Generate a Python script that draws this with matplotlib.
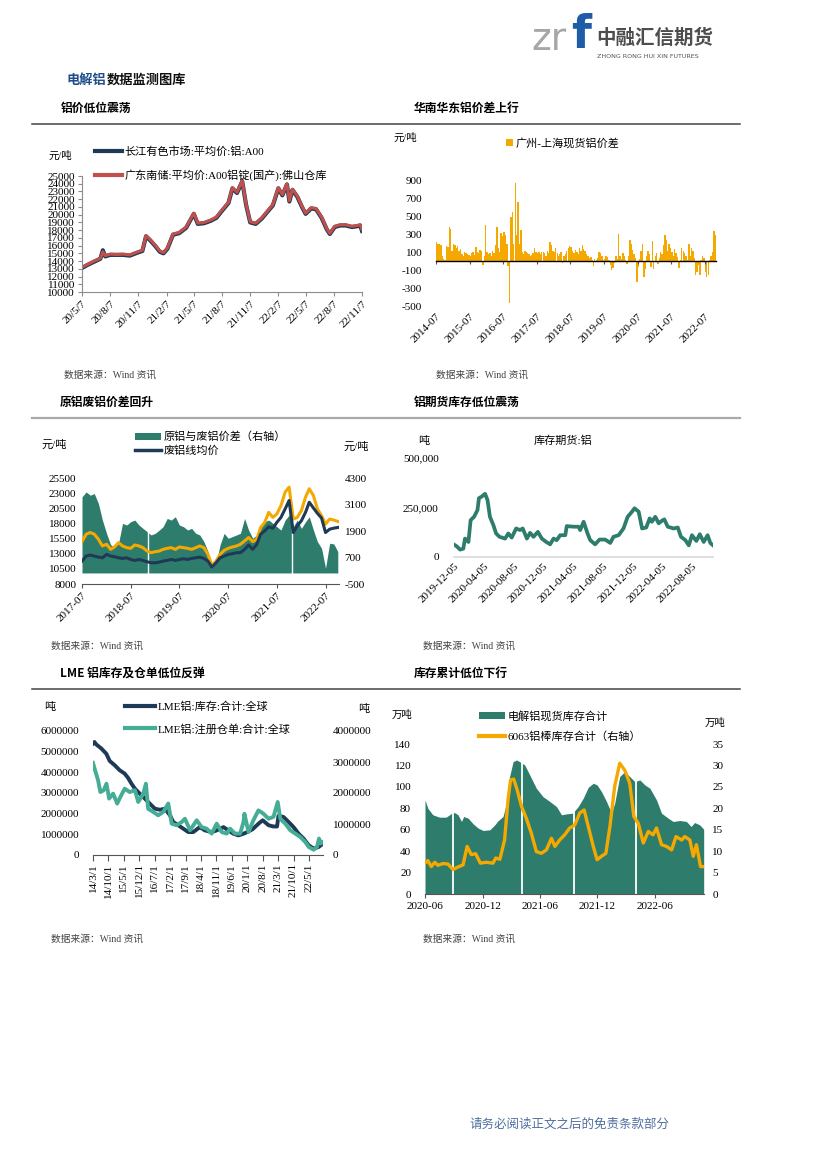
import numpy as np
import pandas as pd
import matplotlib
matplotlib.use('Agg')
import matplotlib.pyplot as plt
import matplotlib.dates as mdates
from matplotlib.lines import Line2D
from matplotlib.patches import Patch
from matplotlib.ticker import FuncFormatter

SERIF = ['Liberation Serif', 'Noto Sans CJK SC', 'DejaVu Sans']
SANS = ['Noto Sans CJK SC', 'DejaVu Sans']
plt.rcParams['font.family'] = SERIF
plt.rcParams['axes.unicode_minus'] = False

NAVY = '#1F3A56'
RED = '#C0504D'
ORANGE = '#F5A800'
GREEN = '#2E7D6C'
TEAL = '#45AD95'

# ---------------- data ----------------
# Panel 1: 铝价
p1_dates = ['2020-05-07','2020-05-25','2020-06-15','2020-07-06','2020-07-14','2020-07-22','2020-08-07','2020-08-28',
            '2020-09-18','2020-10-10','2020-11-05','2020-11-20','2020-12-02','2020-12-15','2020-12-31','2021-01-16',
            '2021-01-28','2021-02-10','2021-02-28','2021-03-20','2021-04-12','2021-05-07','2021-05-20','2021-06-10',
            '2021-07-01','2021-07-20','2021-08-07','2021-08-28','2021-09-10','2021-09-25','2021-10-12','2021-10-25',
            '2021-11-07','2021-11-25','2021-12-15','2022-01-05','2022-01-20','2022-02-07','2022-02-20','2022-03-07',
            '2022-03-15','2022-03-25','2022-04-10','2022-04-25','2022-05-07','2022-05-25','2022-06-10','2022-06-28',
            '2022-07-15','2022-07-25','2022-08-10','2022-08-28','2022-09-15','2022-10-05','2022-10-22','2022-11-01',
            '2022-11-07']
p1_changjiang = [13100,13500,13900,14300,15400,14600,14800,14800,14800,14700,15100,15300,17200,16700,16000,15200,
                 15000,15600,17400,17600,18300,20100,18800,18900,19200,19600,20500,21500,23400,22800,24300,21200,
                 19000,18800,19500,20500,21200,23400,22500,23900,21700,23200,22300,21000,20100,20800,20700,19600,
                 18100,17500,18400,18600,18600,18400,18500,18600,17900]
p1_guangdong = [13200,13550,14000,14350,15200,14700,14900,14850,14900,14800,15200,15400,17300,16800,16100,15300,
                15100,15700,17500,17700,18400,20200,18900,19000,19300,19700,20600,21600,23500,22900,24400,21300,
                19100,18900,19600,20600,21300,23500,22600,24000,21800,23300,22400,21100,20200,20900,20800,19700,
                18200,17600,18500,18700,18700,18500,18600,18700,18100]
p1_legend = ['长江有色市场:平均价:铝:A00', '广东南储:平均价:A00铝锭(国产):佛山仓库']

# Panel 2: 广州-上海现货铝价差 (semi-monthly from 2014-07)
p2_start = '2014-07-01'
p2_spread = [220,190, 200,180, 60,30, 20,170, 160,380, 360,120,
             190,180, 150,170, 120,140, 80,60, 100,90, 80,70, 60,90, 100,70, 160,110, 90,130, 120,-40, 60,410,
             100,80, 90,60, 120,90, 180,390, 150,100, 320,280, 330,300, 200,-50, -470,500, 550,200, 880,300, 670,200,
             350,100, 80,120, 100,90, 80,60, 70,90, 150,100, 90,110, 80,100, 110,90, 60,120, 90,220, 180,120,
             100,150, 90,60, 80,100, -20,60, 80,120, 150,170, 160,120, 90,130, 110,80, 150,120, 180,140, 120,80,
             60,40, 50,20, -50,30, 20,40, 100,90, 60,20, 30,60, 50,20, -40,-100, -70,-20, 60,30, 310,60,
             30,90, 60,20, -30,60, 240,200, 130,80, 40,-230, -60,30, 120,200, -170,-90, 60,120, 80,-60, 230,-80,
             60,90, -30,40, 100,80, 180,300, 240,120, 200,150, 100,60, 140,90, 50,-70, 20,150, 120,90, 60,20,
             200,60, 150,120, 40,-150, -120,-40, -150,20, 60,40, -120,-180, -150,20, 60,100, 340,300]
p2_legend = '广州-上海现货铝价差'

# Panel 3: 原铝废铝 (monthly from 2017-07)
p3_start = '2017-07-01'
p3_primary = [15000,16220,16500,16220,15390,14280,
              14560,13720,14110,14830,14280,14000,13890,14440,14280,14000,13440,13170,
              13330,13440,13720,13890,14000,13720,14110,14000,13890,13720,14000,14280,
              14000,12890,11110,11780,12890,13560,13890,14110,14280,14560,15110,15670,
              15000,15390,17330,18170,19830,19000,19560,20940,23170,24000,18720,19000,
              20110,22330,23720,22610,20390,19280,17890,18720,18560,18330]
p3_scrap = [11780,12610,12780,12610,12440,12330,
            12890,12610,12500,12330,12220,12330,12050,11890,12050,11890,11670,11500,
            11500,11610,11780,11890,12050,11890,12050,12170,12050,12220,12330,12440,
            12220,11780,10780,11500,12330,12610,12890,13000,13170,13170,13720,14440,
            13720,14560,16220,16780,17440,17220,18170,19000,20390,21780,16500,17610,
            18440,19830,21500,20560,19670,18890,16500,17050,17220,17330]
p3_diff = [3445,3670,3520,3595,3145,2395,
           1795,1270,1195,1345,2245,2170,2320,2395,2170,2020,1870,1720,
           1795,1945,2095,2470,2395,2545,2170,2095,1945,2020,1795,1720,
           1420,970,220,445,1270,1795,1570,1645,1720,1795,2470,1945,
           1570,1720,2095,2320,2395,2245,2095,1945,2395,2620,2095,2395,
           2020,2320,2545,1945,1420,1120,220,1345,1315,970]
p3_gap_dates = ['2018-11-10', '2021-10-20']
p3_legend = ['原铝与废铝价差（右轴）', '废铝线均价']

# Panel 4: 库存期货:铝
p4_dates = ['2019-12-05','2019-12-16','2019-12-30','2020-01-12','2020-01-19','2020-02-02','2020-02-11','2020-02-25',
            '2020-03-10','2020-03-16','2020-03-27','2020-04-10','2020-04-20','2020-04-30','2020-05-14','2020-05-25',
            '2020-06-08','2020-07-01','2020-07-14','2020-07-28','2020-08-15','2020-08-31','2020-09-11','2020-09-28',
            '2020-10-11','2020-10-25','2020-11-12','2020-11-28','2020-12-16','2021-01-01','2021-01-15','2021-01-28',
            '2021-02-11','2021-03-04','2021-03-10','2021-04-07','2021-04-27','2021-05-04','2021-05-18','2021-06-03',
            '2021-06-14','2021-07-04','2021-07-22','2021-08-14','2021-09-04','2021-09-17','2021-10-08','2021-10-28',
            '2021-11-14','2021-12-02','2021-12-12','2021-12-29','2022-01-12','2022-01-29','2022-02-12','2022-02-21',
            '2022-03-07','2022-03-21','2022-04-03','2022-04-13','2022-04-27','2022-05-21','2022-06-07','2022-06-20',
            '2022-07-08','2022-07-22','2022-08-04','2022-08-22','2022-09-05','2022-09-21','2022-10-07','2022-10-18',
            '2022-10-29']
p4_stock = [62700,54000,37300,42000,93000,76000,186000,203000,237000,297000,305000,319000,288000,203000,161000,
            119000,102000,93000,119000,98000,144000,136000,144000,93000,122000,102000,127000,93000,76000,64000,
            93000,85000,110000,110000,156000,153000,153000,136000,178000,119000,85000,64000,88000,88000,71000,
            102000,110000,144000,203000,229000,246000,229000,144000,149000,195000,178000,203000,170000,183000,
            190000,153000,144000,149000,102000,85000,59000,110000,81000,115000,76000,110000,71000,59000]
p4_legend = '库存期货:铝'

# Panel 5: LME
p5_stock_dates = ['2014-03-01','2014-03-20','2014-04-15','2014-06-25','2014-09-01','2014-10-18','2014-12-27',
                  '2015-03-05','2015-05-12','2015-06-27','2015-08-15','2015-10-01','2015-12-07','2016-02-15',
                  '2016-04-25','2016-07-04','2016-09-10','2016-11-18','2017-01-28','2017-03-13','2017-05-22',
                  '2017-08-01','2017-10-07','2017-12-16','2018-02-24','2018-03-18','2018-05-25','2018-08-27',
                  '2018-11-04','2019-02-06','2019-04-15','2019-06-22','2019-09-01','2019-11-09','2019-12-25',
                  '2020-03-15','2020-06-15','2020-08-01','2020-10-21','2020-12-28','2021-02-15','2021-03-07',
                  '2021-05-15','2021-07-24','2021-10-01','2021-12-10','2022-02-18','2022-04-28','2022-07-06',
                  '2022-09-13','2022-11-12']
p5_stock = [5390000,5470000,5350000,5150000,4900000,4550000,4340000,4100000,3940000,3740000,3450000,3210000,
            2970000,2730000,2480000,2240000,2190000,2240000,1920000,1600000,1440000,1270000,1110000,1110000,
            1300000,1350000,1190000,1110000,1190000,1350000,1190000,1030000,950000,1030000,1100000,1250000,
            1550000,1680000,1440000,1380000,1380000,1900000,1840000,1600000,1350000,1030000,790000,470000,
            310000,390000,550000]
p5_warrant_dates = ['2014-03-01','2014-03-24','2014-05-10','2014-06-11','2014-07-27','2014-09-03','2014-10-10',
                    '2014-12-04','2015-01-29','2015-03-14','2015-05-13','2015-07-22','2015-10-01','2015-11-16',
                    '2016-01-25','2016-03-01','2016-04-01','2016-06-10','2016-08-18','2016-10-27','2017-01-04',
                    '2017-02-20','2017-04-28','2017-07-07','2017-08-22','2017-11-01','2018-02-01','2018-04-10',
                    '2018-06-18','2018-08-27','2018-11-04','2019-01-13','2019-03-22','2019-05-07','2019-07-16',
                    '2019-09-24','2019-11-09','2019-11-22','2020-01-18','2020-03-25','2020-06-03','2020-08-12',
                    '2020-10-21','2020-12-28','2021-02-24','2021-04-01','2021-06-09','2021-08-16','2021-10-25',
                    '2022-01-03','2022-03-12','2022-04-28','2022-07-06','2022-08-21','2022-09-18','2022-10-15',
                    '2022-11-12']
p5_warrant = [2970000,2780000,2410000,2030000,2090000,2300000,1820000,1980000,1660000,1870000,2140000,2030000,
              2090000,1710000,1980000,2300000,1490000,1390000,1280000,1390000,1660000,1010000,960000,1060000,
              1170000,800000,1120000,900000,850000,690000,1010000,740000,690000,850000,690000,690000,1060000,
              1330000,740000,1120000,1440000,1330000,1170000,1230000,1710000,1170000,1010000,800000,690000,
              580000,420000,260000,170000,260000,530000,370000,420000]
p5_legend = ['LME铝:库存:合计:全球', 'LME铝:注册仓单:合计:全球']

# Panel 6: 库存累计
p6_spot_dates = ['2020-06-01','2020-06-10','2020-06-26','2020-07-17','2020-08-07','2020-08-18','2020-08-25',
                 '2020-09-03','2020-09-14','2020-09-25','2020-10-02','2020-10-16','2020-11-01','2020-11-17',
                 '2020-12-03','2020-12-24','2021-01-09','2021-01-19','2021-02-04','2021-02-15','2021-02-25',
                 '2021-03-08','2021-03-19','2021-03-29','2021-04-14','2021-04-30','2021-05-21','2021-06-11',
                 '2021-07-03','2021-07-24','2021-08-09','2021-08-25','2021-09-13','2021-10-01','2021-10-17',
                 '2021-11-02','2021-11-18','2021-11-30','2021-12-14','2021-12-30','2022-01-15','2022-01-25',
                 '2022-02-10','2022-02-26','2022-03-14','2022-03-30','2022-04-15','2022-05-01','2022-05-17',
                 '2022-06-07','2022-06-23','2022-07-14','2022-07-30','2022-08-20','2022-09-10','2022-09-25',
                 '2022-10-06','2022-10-22','2022-11-04']
p6_spot = [87.8,80,73.9,71.7,71.7,73.9,75.4,76,73.9,67.7,72.3,70.8,65.5,61.5,59.3,59.9,
           64.6,68.3,72.3,84.7,109.6,123.5,125.1,123.5,120.4,111.1,98.7,90.9,86.3,81.6,73.9,74.8,75.4,81.6,
           89.4,99.6,103.4,101.8,95.6,86.3,
           75.4,84.7,109.6,114.2,109.6,104.9,106.5,101.8,98.7,87.8,75.4,70.8,67.7,68.6,67.7,63,66.7,64.6,60.5]
p6_gap_dates = ['2020-08-30', '2021-04-05', '2021-09-18', '2022-04-03']
p6_bar_dates = ['2020-06-01','2020-06-10','2020-06-21','2020-07-02','2020-07-12','2020-07-28','2020-08-13',
                '2020-08-29','2020-09-14','2020-09-30','2020-10-13','2020-10-26','2020-11-09','2020-11-24',
                '2020-12-13','2021-01-03','2021-01-12','2021-01-25','2021-02-09','2021-02-20','2021-02-28',
                '2021-03-10','2021-03-21','2021-04-04','2021-04-19','2021-05-05','2021-05-21','2021-06-06',
                '2021-06-22','2021-07-08','2021-07-19','2021-08-03','2021-08-19','2021-09-04','2021-09-20',
                '2021-10-06','2021-10-20','2021-11-02','2021-11-18','2021-11-30','2021-12-14','2021-12-28',
                '2022-01-10','2022-01-25','2022-02-10','2022-02-26','2022-03-14','2022-03-27','2022-04-10',
                '2022-04-26','2022-05-12','2022-05-27','2022-06-07','2022-06-23','2022-07-09','2022-07-25',
                '2022-08-08','2022-08-26','2022-09-05','2022-09-21','2022-10-02','2022-10-12','2022-10-25',
                '2022-11-04']
p6_bar = [7.2,7.8,6.4,7.4,6.7,7.1,7.0,5.7,6.3,6.8,11.1,9.2,9.4,7.2,7.4,
          7.2,8.4,8.1,12.6,22,26.6,26.8,24.3,20.4,17.7,14.2,9.9,9.5,10.3,13,11.1,12.6,13.8,15.4,16.1,18.9,
          19.6,15.8,11.1,8,8.8,9.5,
          15.8,25.1,30.5,28.9,25.8,18.1,16.5,11.9,14.6,13.8,15.4,11.5,11.1,10.3,13.4,12.6,13.4,12.6,8.8,11.5,
          6.4,6.4]
p6_legend = ['电解铝现货库存合计', '6063铝棒库存合计（右轴）']

# ---------------- figure ----------------
W, H = 826, 1169
fig = plt.figure(figsize=(W / 100, H / 100), dpi=100)
fig.patch.set_facecolor('white')


def add_ax(l, t, r, b):
    return fig.add_axes([l / W, 1 - b / H, (r - l) / W, (b - t) / H])


def ftext(x, y, s, **kw):
    kw.setdefault('va', 'center')
    kw.setdefault('ha', 'left')
    fig.text(x / W, 1 - y / H, s, **kw)


def hline(x1, x2, y, color, lw):
    fig.add_artist(Line2D([x1 / W, x2 / W], [1 - y / H, 1 - y / H], transform=fig.transFigure,
                          color=color, lw=lw))


def leg_entry(handle, label, x, y, fs=8, hl=2.5, hh=0.7, pad=0.25):
    fig.legend([handle], [label], loc='center left', bbox_to_anchor=(x / W, 1 - y / H),
               frameon=False, fontsize=fs, handlelength=hl, handleheight=hh, handletextpad=pad,
               borderpad=0, borderaxespad=0)


def date_fmt(func):
    return FuncFormatter(lambda x, p: func(mdates.num2date(x)))


def ymd_short(d):
    return f"{d.year % 100}/{d.month}/{d.day}"


def clean(ax, keep=()):
    for s in ['top', 'right', 'left', 'bottom']:
        ax.spines[s].set_visible(s in keep)


def rot45(labels):
    for lb in labels:
        lb.set_rotation(45); lb.set_ha('right'); lb.set_va('top'); lb.set_rotation_mode('anchor')


# header / logo
ftext(531, 40, 'zr', fontsize=27, color='#A6A6A6', family=['DejaVu Sans'], va='center')
ftext(571, 36, 'f', fontsize=33, color='#1F5CA8', family=['DejaVu Sans'], weight='bold', va='center')
ftext(596, 38, '中融汇信期货', fontsize=14, color='#4D4D4D', family=SANS, weight='bold')
ftext(597, 56, 'ZHONG RONG HUI XIN FUTURES', fontsize=4.6, color='#555555', family=['DejaVu Sans'])

ftext(67, 80, '电解铝', fontsize=9.5, color='#1F4E89', family=SANS, weight='bold')
ftext(106.5, 80, '数据监测图库', fontsize=9.5, color='#111111', family=SANS, weight='bold')

HDR = dict(fontsize=8.5, color='#000000', family=SANS, weight='bold')
ftext(61, 108, '铝价低位震荡', **HDR)
ftext(414, 108, '华南华东铝价差上行', **HDR)
ftext(60, 402, '原铝废铝价差回升', **HDR)
ftext(414, 402, '铝期货库存低位震荡', **HDR)
ftext(60, 673, 'LME 铝库存及仓单低位反弹', **HDR)
ftext(414, 673, '库存累计低位下行', **HDR)
hline(32, 740, 124, '#444444', 1.1)
hline(32, 740, 418, '#AAAAAA', 1.6)
hline(32, 740, 689, '#444444', 1.1)

SRC = dict(fontsize=7, color='#444444')
ftext(64, 375, '数据来源：Wind 资讯', **SRC)
ftext(436, 375, '数据来源：Wind 资讯', **SRC)
ftext(51, 646, '数据来源：Wind 资讯', **SRC)
ftext(423, 646, '数据来源：Wind 资讯', **SRC)
ftext(51, 939, '数据来源：Wind 资讯', **SRC)
ftext(423, 939, '数据来源：Wind 资讯', **SRC)

ftext(570, 1124, '请务必阅读正文之后的免责条款部分', fontsize=9, color='#4F6FA0', family=SANS, ha='center')

TS = 8

# ---------------- Panel 1 ----------------
ax1 = add_ax(82, 176, 362, 292)
d1 = pd.to_datetime(p1_dates)
ax1.plot(d1, p1_changjiang, color=NAVY, lw=3.0)
ax1.plot(d1, p1_guangdong, color=RED, lw=2.2)
ax1.set_ylim(10000, 25000)
ax1.set_yticks(range(10000, 25001, 1000))
ax1.set_xlim(pd.Timestamp('2020-05-07'), pd.Timestamp('2022-11-07'))
ax1.set_xticks(pd.date_range('2020-05-07', '2022-11-07', freq=pd.DateOffset(months=3)))
ax1.xaxis.set_major_formatter(date_fmt(ymd_short))
clean(ax1, ('left', 'bottom'))
for s in ('left', 'bottom'):
    ax1.spines[s].set_color('#8C8C8C')
ax1.tick_params(axis='both', length=3, width=0.8, color='#8C8C8C', labelsize=TS, pad=2)
rot45(ax1.get_xticklabels())
ftext(48, 156, '元/吨', fontsize=7.5)
leg_entry(Line2D([], [], color=NAVY, lw=3), p1_legend[0], 95, 152, hl=2.4)
leg_entry(Line2D([], [], color=RED, lw=3), p1_legend[1], 95, 175, hl=2.4)

# ---------------- Panel 2 ----------------
ax2 = add_ax(436, 181, 716, 306)
d2 = pd.date_range(p2_start, periods=len(p2_spread), freq='SMS')
ax2.bar(d2, p2_spread, width=15.5, color=ORANGE, lw=0, align='edge')
ax2.set_ylim(-500, 900)
ax2.set_yticks(range(-500, 901, 200))
ax2.set_xlim(pd.Timestamp('2014-07-01'), pd.Timestamp('2022-10-31'))
ticks2 = pd.date_range('2014-07-01', '2022-07-01', freq='12MS')
clean(ax2, ('bottom',))
ax2.spines['bottom'].set_position(('data', 0))
ax2.spines['bottom'].set_color('black')
ax2.spines['bottom'].set_linewidth(1.0)
ax2.set_xticks(ticks2)
ax2.tick_params(axis='x', length=2.5, color='#555555', labelbottom=False)
ax2.tick_params(axis='y', length=0, labelsize=TS, pad=10)
sec2 = ax2.secondary_xaxis(0)
sec2.set_xticks(ticks2)
sec2.xaxis.set_major_formatter(date_fmt(lambda d: d.strftime('%Y-%m')))
for s in sec2.spines.values():
    s.set_visible(False)
sec2.tick_params(axis='x', length=0, labelsize=TS, pad=4)
rot45(sec2.get_xticklabels())
ftext(393, 138, '元/吨', fontsize=7.5)
leg_entry(Patch(facecolor=ORANGE, lw=0), p2_legend, 506, 143, hl=0.6, hh=0.6, pad=0.3)

# ---------------- Panel 3 ----------------
ax3 = add_ax(82, 478, 339, 584)
ax3r = ax3.twinx()
d3 = pd.date_range(p3_start, periods=len(p3_primary), freq='MS')
ax3r.fill_between(d3, 0, p3_diff, color=GREEN, lw=0)
for g in pd.to_datetime(p3_gap_dates):
    ax3r.axvline(g, color='white', lw=1.0)
ax3.plot(d3, p3_primary, color=ORANGE, lw=2.2)
ax3.plot(d3, p3_scrap, color=NAVY, lw=2.2)
ax3.set_zorder(ax3r.get_zorder() + 1)
ax3.patch.set_visible(False)
ax3.set_ylim(8000, 25500)
ax3.set_yticks(range(8000, 25501, 2500))
ax3r.set_ylim(-500, 4300)
ax3r.set_yticks(range(-500, 4301, 1200))
ax3.set_xlim(pd.Timestamp('2017-07-01'), pd.Timestamp('2022-10-10'))
ax3.set_xticks(pd.date_range('2017-07-01', '2022-07-01', freq='12MS'))
ax3.xaxis.set_major_formatter(date_fmt(lambda d: d.strftime('%Y-%m')))
clean(ax3, ('bottom',))
clean(ax3r)
ax3.spines['bottom'].set_color('#555555')
ax3.tick_params(axis='x', length=3, color='#555555', labelsize=TS, pad=2)
ax3.tick_params(axis='y', length=0, labelsize=TS, pad=4)
ax3r.tick_params(axis='y', length=0, labelsize=TS, pad=4)
rot45(ax3.get_xticklabels())
ftext(41, 445, '元/吨', fontsize=8)
ftext(344, 447, '元/吨', fontsize=8)
leg_entry(Patch(facecolor=GREEN, lw=0), p3_legend[0], 135, 437, hl=2.3, hh=0.65)
leg_entry(Line2D([], [], color=NAVY, lw=2.5), p3_legend[1], 135, 451, hl=2.3)

# ---------------- Panel 4 ----------------
ax4 = add_ax(454, 458, 713, 557)
d4 = pd.to_datetime(p4_dates)
ax4.plot(d4, p4_stock, color=GREEN, lw=2.7)
ax4.set_ylim(0, 500000)
ax4.set_yticks([0, 250000, 500000])
ax4.yaxis.set_major_formatter(FuncFormatter(lambda v, p: f"{v:,.0f}"))
ax4.set_xlim(pd.Timestamp('2019-12-05'), pd.Timestamp('2022-10-29'))
ax4.set_xticks(pd.date_range('2019-12-05', periods=9, freq=pd.DateOffset(months=4)))
ax4.xaxis.set_major_formatter(date_fmt(lambda d: d.strftime('%Y-%m-%d')))
clean(ax4, ('bottom',))
ax4.spines['bottom'].set_color('#D9D9D9')
ax4.spines['bottom'].set_linewidth(1.2)
ax4.tick_params(axis='both', length=0, labelsize=TS)
ax4.tick_params(axis='y', pad=11)
ax4.tick_params(axis='x', pad=3)
rot45(ax4.get_xticklabels())
ftext(418, 441, '吨', fontsize=8)
ftext(563, 441, p4_legend, fontsize=8, ha='center')

# ---------------- Panel 5 ----------------
ax5 = add_ax(93, 731, 323, 855)
ax5r = ax5.twinx()
ax5.plot(pd.to_datetime(p5_stock_dates), p5_stock, color=NAVY, lw=2.8)
ax5r.plot(pd.to_datetime(p5_warrant_dates), p5_warrant, color=TEAL, lw=2.8)
ax5.set_ylim(0, 6000000)
ax5.set_yticks(range(0, 6000001, 1000000))
ax5r.set_ylim(0, 4000000)
ax5r.set_yticks(range(0, 4000001, 1000000))
intfmt = FuncFormatter(lambda v, p: f"{v:.0f}")
ax5.yaxis.set_major_formatter(intfmt)
ax5r.yaxis.set_major_formatter(intfmt)
ax5.set_xlim(pd.Timestamp('2014-03-01'), pd.Timestamp('2022-11-12'))
ax5.set_xticks(pd.date_range('2014-03-01', periods=15, freq=pd.DateOffset(months=7)))
ax5.xaxis.set_major_formatter(date_fmt(ymd_short))
clean(ax5, ('bottom',))
clean(ax5r)
ax5.spines['bottom'].set_color('#555555')
ax5.tick_params(axis='x', length=4, color='#555555', labelsize=TS, pad=2, labelrotation=90)
ax5.tick_params(axis='y', length=0, labelsize=TS, pad=10)
ax5r.tick_params(axis='y', length=0, labelsize=TS, pad=7)
ftext(44, 707, '吨', fontsize=8)
ftext(358, 709, '吨', fontsize=8)
leg_entry(Line2D([], [], color=NAVY, lw=3), p5_legend[0], 125, 707, hl=2.7)
leg_entry(Line2D([], [], color=TEAL, lw=3), p5_legend[1], 125, 729, hl=2.7)

# ---------------- Panel 6 ----------------
ax6 = add_ax(425, 744, 704, 894)
ax6r = ax6.twinx()
ax6.fill_between(pd.to_datetime(p6_spot_dates), 0, p6_spot, color=GREEN, lw=0)
for g in pd.to_datetime(p6_gap_dates):
    ax6.axvline(g, color='white', lw=1.3)
ax6r.plot(pd.to_datetime(p6_bar_dates), p6_bar, color=ORANGE, lw=2.4)
ax6.set_ylim(0, 140)
ax6.set_yticks(range(0, 141, 20))
ax6r.set_ylim(0, 35)
ax6r.set_yticks(range(0, 36, 5))
ax6.set_xlim(pd.Timestamp('2020-06-01'), pd.Timestamp('2022-11-05'))
ax6.set_xticks(pd.date_range('2020-06-01', periods=5, freq=pd.DateOffset(months=6)))
ax6.xaxis.set_major_formatter(date_fmt(lambda d: d.strftime('%Y-%m')))
clean(ax6, ('bottom',))
clean(ax6r)
ax6.spines['bottom'].set_color('#555555')
ax6.tick_params(axis='x', length=3, color='#555555', labelsize=TS, pad=3)
ax6.tick_params(axis='y', length=0, labelsize=TS, pad=10)
ax6r.tick_params(axis='y', length=0, labelsize=TS, pad=6)
ftext(392, 715, '万吨', fontsize=7.5)
ftext(705, 723, '万吨', fontsize=7.5)
leg_entry(Patch(facecolor=GREEN, lw=0), p6_legend[0], 479, 716, hl=2.3, hh=0.65)
leg_entry(Line2D([], [], color=ORANGE, lw=3), p6_legend[1], 479, 737, hl=2.3)

fig.savefig('out.png', dpi=100, facecolor='white')
